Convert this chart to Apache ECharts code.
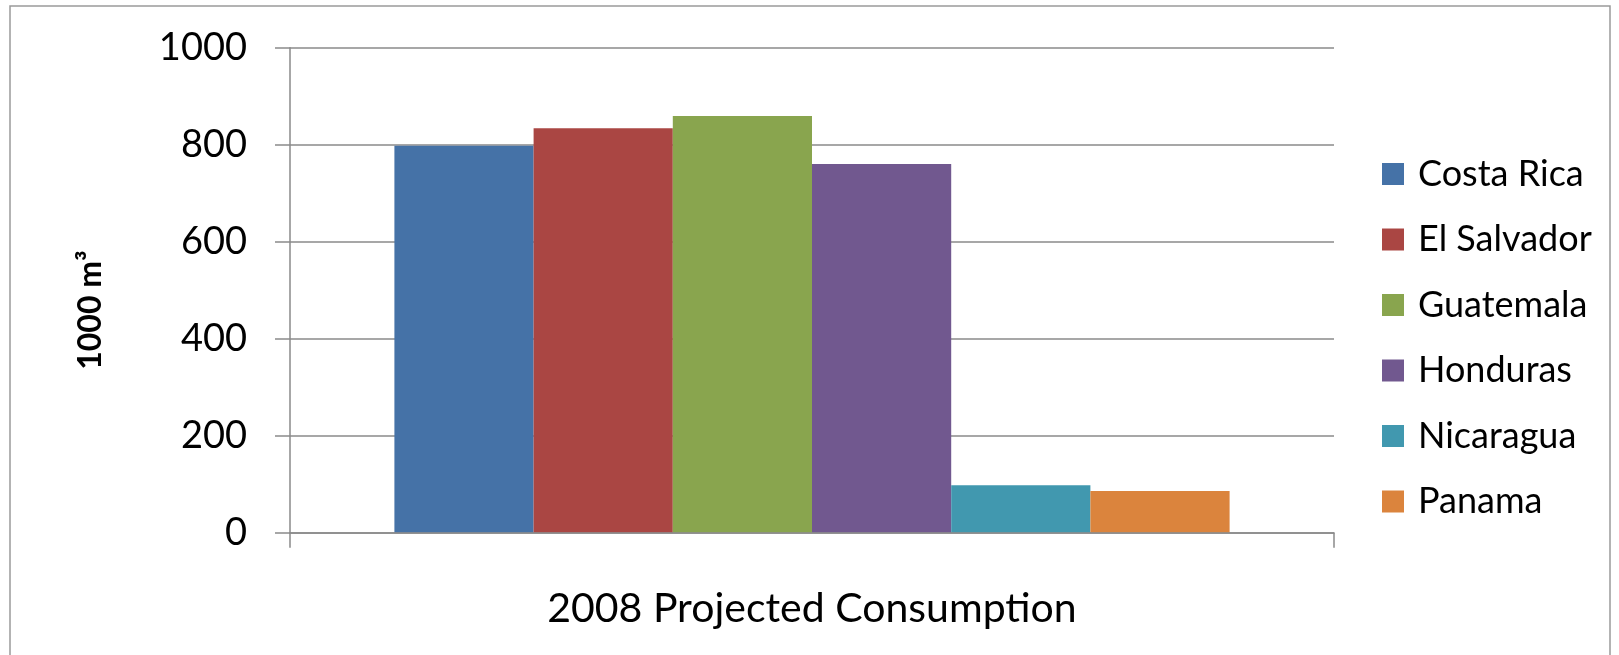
<!DOCTYPE html>
<html>
<head>
<meta charset="utf-8">
<script src="https://cdn.jsdelivr.net/npm/echarts@6/dist/echarts.min.js"></script>
<style>
  html, body { margin: 0; padding: 0; background: #fff; }
  #chart { width: 1619px; height: 655px; }
</style>
</head>
<body>
<div id="chart"></div>
<script>
// Projected 2008 consumption by country, in thousands of cubic metres
const categories = ['2008 Projected Consumption'];
const countries = ['Costa Rica', 'El Salvador', 'Guatemala', 'Honduras', 'Nicaragua', 'Panama'];
const consumption = [798, 834, 859, 760, 98, 86];
const colors = ['#4572A7', '#AA4643', '#89A54E', '#71588F', '#4198AF', '#DB843D'];
const yTicks = { min: 0, max: 1000, interval: 200 };
const yAxisTitle = '1000 m³';

const FONT = 'Lato, "Open Sans", sans-serif';
const GRAY = '#8a8a8a';

const chart = echarts.init(document.getElementById('chart'), null, { renderer: 'canvas' });

const series = countries.map((name, i) => ({
  name: name,
  type: 'bar',
  data: [consumption[i]],
  barGap: '0%',
  barCategoryGap: '20%',
  itemStyle: { color: colors[i] },
  emphasis: { disabled: true }
}));

chart.setOption({
  animation: false,
  backgroundColor: '#fff',
  grid: { left: 290, right: 285, top: 47.7, bottom: 122.3 },
  legend: {
    orient: 'vertical',
    left: 1377,
    top: 151,
    data: countries,
    icon: 'rect',
    itemWidth: 22,
    itemHeight: 22,
    itemGap: 29.5,
    textStyle: {
      fontFamily: FONT,
      fontSize: 36,
      color: '#000',
      lineHeight: 36,
      padding: [0, 0, 0, 9]
    }
  },
  xAxis: {
    type: 'category',
    data: categories,
    z: 3,
    axisLine: { show: true, lineStyle: { color: GRAY, width: 1.5 } },
    axisTick: { show: true, length: 15, lineStyle: { color: GRAY, width: 1.5 } },
    axisLabel: {
      fontFamily: FONT,
      fontSize: 41,
      color: '#000',
      lineHeight: 42,
      margin: 55
    }
  },
  yAxis: {
    type: 'value',
    min: yTicks.min,
    max: yTicks.max,
    interval: yTicks.interval,
    axisLine: { show: true, lineStyle: { color: GRAY, width: 1.5 } },
    axisTick: { show: true, length: 15, lineStyle: { color: GRAY, width: 1.5 } },
    splitLine: { show: true, lineStyle: { color: GRAY, width: 1.5 } },
    axisLabel: {
      fontFamily: FONT,
      fontSize: 38,
      color: '#000',
      margin: 43,
      formatter: (v) => String(v)
    }
  },
  graphic: [
    {
      type: 'rect',
      shape: { x: 10, y: 6, width: 1600, height: 700 },
      style: { fill: 'none', stroke: '#9a9a9a', lineWidth: 1.5 },
      silent: true
    },
    {
      type: 'text',
      x: 91,
      y: 310,
      rotation: Math.PI / 2,
      style: {
        text: yAxisTitle,
        fontFamily: FONT,
        fontWeight: 'bold',
        fontSize: 32,
        fill: '#000',
        align: 'center',
        verticalAlign: 'middle'
      },
      silent: true
    }
  ],
  series: series
});
</script>
</body>
</html>
